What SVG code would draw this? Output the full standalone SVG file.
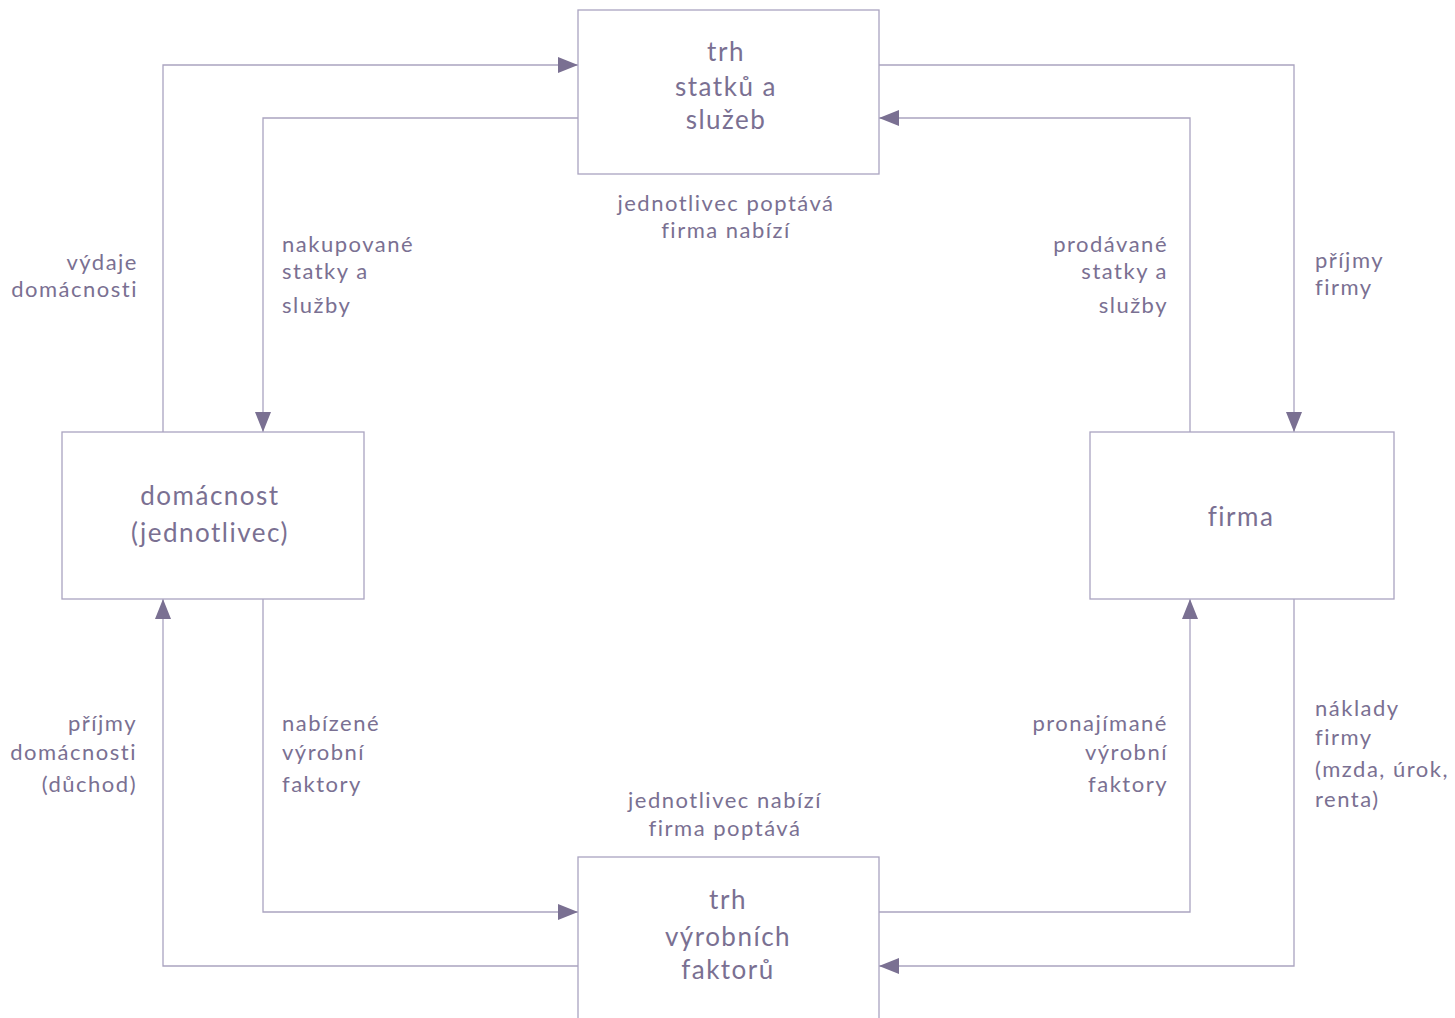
<svg xmlns="http://www.w3.org/2000/svg" width="1455" height="1018" viewBox="0 0 1455 1018">
<defs>
<marker id="ah" markerWidth="20" markerHeight="16" refX="20" refY="8" orient="auto" markerUnits="userSpaceOnUse">
<path d="M0,0 L20,8 L0,16 Z" fill="#7a7092"/>
</marker>
<style>
.box{fill:#fff;stroke:#aaa4c0;stroke-width:1.3}
.ln{fill:none;stroke:#aaa4c0;stroke-width:1.3}
.t{font-family:"Lato","Liberation Sans",sans-serif;fill:#7a7092;font-size:22px;letter-spacing:1.5px;font-variant-ligatures:none}
.b{font-size:26px}
.m{text-anchor:middle}
.r{text-anchor:end}
</style>
</defs>
<rect width="1455" height="1018" fill="#fff"/>
<g id="connectors">
<path class="ln" d="M163,432 V65 H578" marker-end="url(#ah)"/>
<path class="ln" d="M578,118 H263 V432" marker-end="url(#ah)"/>
<path class="ln" d="M879,65 H1294 V432" marker-end="url(#ah)"/>
<path class="ln" d="M1190,432 V118 H879" marker-end="url(#ah)"/>
<path class="ln" d="M263,599 V912 H578" marker-end="url(#ah)"/>
<path class="ln" d="M578,966 H163 V599" marker-end="url(#ah)"/>
<path class="ln" d="M879,912 H1190 V599" marker-end="url(#ah)"/>
<path class="ln" d="M1294,599 V966 H879" marker-end="url(#ah)"/>
</g>
<g id="market-goods">
<rect class="box" x="578" y="10" width="301" height="164"/>
<text class="t b m" x="726" y="61">trh</text>
<text class="t b m" x="726" y="96">statků a</text>
<text class="t b m" x="726" y="129">služeb</text>
</g>
<g id="household">
<rect class="box" x="62" y="432" width="302" height="167"/>
<text class="t b m" x="210" y="505">domácnost</text>
<text class="t b m" x="210" y="542">(jednotlivec)</text>
</g>
<g id="firm">
<rect class="box" x="1090" y="432" width="304" height="167"/>
<text class="t b m" x="1241" y="526">firma</text>
</g>
<g id="market-factors">
<rect class="box" x="578" y="857" width="301" height="180"/>
<text class="t b m" x="728" y="909">trh</text>
<text class="t b m" x="728" y="946">výrobních</text>
<text class="t b m" x="728" y="979">faktorů</text>
</g>
<g id="labels">
<text class="t m" x="726" y="211">jednotlivec poptává</text>
<text class="t m" x="726" y="238">firma nabízí</text>
<text class="t r" x="138" y="270">výdaje</text>
<text class="t r" x="138" y="297">domácnosti</text>
<text class="t" x="282" y="252">nakupované</text>
<text class="t" x="282" y="279">statky a</text>
<text class="t" x="282" y="313">služby</text>
<text class="t r" x="1168" y="252">prodávané</text>
<text class="t r" x="1168" y="279">statky a</text>
<text class="t r" x="1168" y="313">služby</text>
<text class="t" x="1315" y="268">příjmy</text>
<text class="t" x="1315" y="295">firmy</text>
<text class="t r" x="137" y="731">příjmy</text>
<text class="t r" x="137" y="760">domácnosti</text>
<text class="t r" x="137" y="792">(důchod)</text>
<text class="t" x="282" y="731">nabízené</text>
<text class="t" x="282" y="760">výrobní</text>
<text class="t" x="282" y="792">faktory</text>
<text class="t m" x="725" y="808">jednotlivec nabízí</text>
<text class="t m" x="725" y="836">firma poptává</text>
<text class="t r" x="1168" y="731">pronajímané</text>
<text class="t r" x="1168" y="760">výrobní</text>
<text class="t r" x="1168" y="792">faktory</text>
<text class="t" x="1315" y="716">náklady</text>
<text class="t" x="1315" y="745">firmy</text>
<text class="t" x="1315" y="777">(mzda, úrok,</text>
<text class="t" x="1315" y="807">renta)</text>
</g>
</svg>
